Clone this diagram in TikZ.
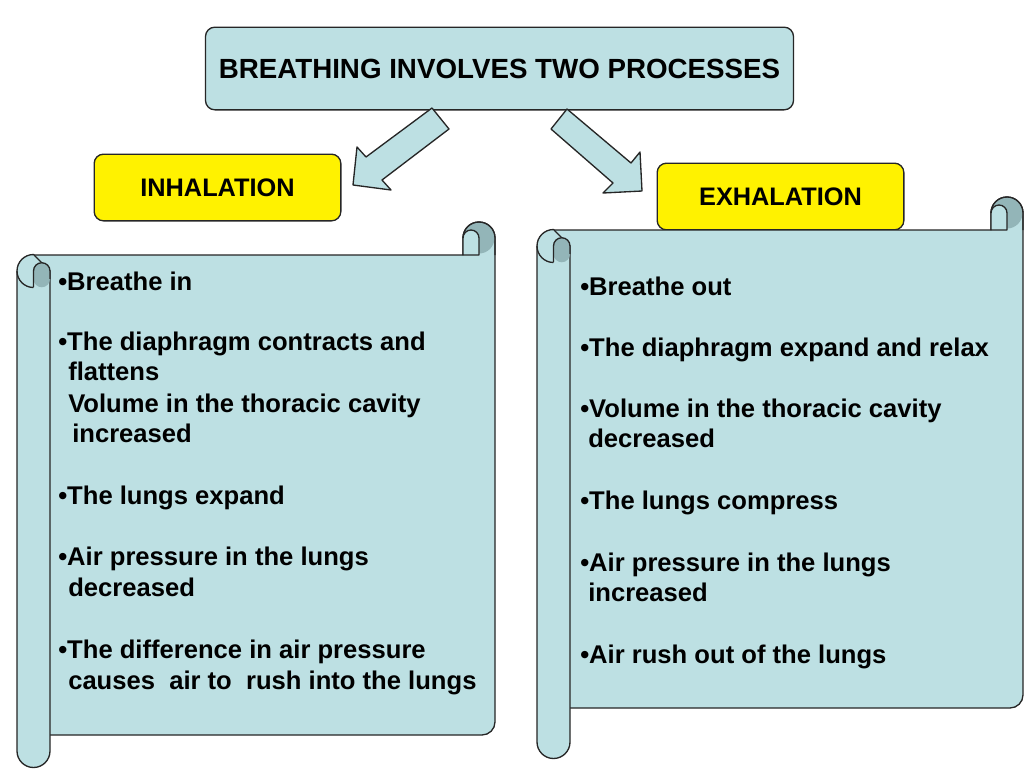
\documentclass[tikz,border=0pt]{standalone}
\usepackage{fontspec}
\setmainfont{Liberation Sans}
\definecolor{lb}{HTML}{BDE0E3}
\definecolor{db}{HTML}{93B5B8}
\begin{document}
\begin{tikzpicture}[x=0.75pt,y=-0.75pt,line join=round,
  ol/.style={draw=black!85,line width=1pt},
  txt/.style={anchor=base west,inner sep=0pt,font=\fontsize{19.2}{22}\selectfont\bfseries}]
\useasboundingbox[fill=white] (0,0) rectangle (1024,768);
% title boxes
\node[ol,fill=lb,rounded corners=7pt,minimum width=441pt,minimum height=62pt,font=\fontsize{20.8}{24}\selectfont\bfseries] (top) at (499.5,68.5) {BREATHING INVOLVES TWO PROCESSES};
\node[ol,fill=yellow,rounded corners=7pt,minimum width=185pt,minimum height=50pt,font=\fontsize{19}{22}\selectfont\bfseries] (inh) at (217.5,187.5) {INHALATION};
\node[ol,fill=yellow,rounded corners=7pt,minimum width=185pt,minimum height=50pt,font=\fontsize{19}{22}\selectfont\bfseries] (exh) at (780.5,196.5) {EXHALATION};
% arrows
\draw[ol,fill=lb] (432,108)--(449,129)--(382,180)--(391,190)--(353,185)--(357,147)--(366,157)--cycle;
\draw[ol,fill=lb] (567,109)--(551,129)--(613,183)--(603,193)--(642,191)--(640,152)--(631,163)--cycle;
% scrolls
\foreach \L/\R/\T/\B/\E/\n in {17/495/255/735/751/a, 537/1023/230/708/742/b}{
  \coordinate (s\n) at (\L,\T);
  \pgfmathsetmacro\Li{\L+16.5}\pgfmathsetmacro\Lr{\L+33}
  \pgfmathsetmacro\Ri{\R-32}\pgfmathsetmacro\Rc{\R-16}
  \pgfmathsetmacro\Tr{\T-17}\pgfmathsetmacro\Tl{\T+16}
  \pgfmathsetmacro\Tc{\T+24}
  \draw[ol,fill=lb] (\Li,\T) -- (\Ri,\T) -- (\Ri,\Tr) arc[start angle=180,end angle=360,radius=16] -- (\R,\B-13) arc[start angle=0,end angle=90,radius=13] -- (\Li,\B) -- cycle;
  \fill[db] (\Rc,\Tr) circle[radius=15.5];
  \draw[ol,fill=lb] (\Ri,\T) -- (\Ri,\Tr) arc[start angle=180,end angle=360,radius=8] -- (\Rc,\T) -- cycle;
  \draw[ol] (\Ri,\Tr) arc[start angle=180,end angle=360,radius=16] -- (\R,\T);
  \draw[ol,fill=lb] (\L,\Tl) arc[start angle=180,end angle=270,radius=16.5] -- (\Lr,\Tl) -- (\Lr,\E) arc[start angle=0,end angle=180,radius=16.5] -- cycle;
  \fill[db] (\Li,\Tc) -- (\Li,\Tl) arc[start angle=180,end angle=360,radius=8.25] -- (\Lr,\Tc) arc[start angle=0,end angle=180,radius=8.25];
  \draw[ol] (\Li,\Tl+16) -- (\Li,\Tl) arc[start angle=180,end angle=360,radius=8.25] -- (\Lr,\Tl+8);
  \draw[ol] (\L,\Tl) arc[start angle=180,end angle=90,radius=16.5];
}
% left text
\foreach \y/\x/\t [count=\i] in {
 290/58/{•Breathe in},
 350/58/{•The diaphragm contracts and},
 380/68/{flattens},
 412/68/{Volume in the thoracic cavity},
 442/72/{increased},
 504/58/{•The lungs expand},
 565/58/{•Air pressure in the lungs},
 596/68/{decreased},
 658/58/{•The difference in air pressure},
 689/68/{causes\ \ air to\ \ rush into the lungs}}
 \node[txt] (l\i) at (\x,\y) {\t};
% right text
\foreach \y/\x/\t [count=\i] in {
 295/580/{•Breathe out},
 356/580/{•The diaphragm expand and relax},
 417/580/{•Volume in the thoracic cavity},
 447/588/{decreased},
 509/580/{•The lungs compress},
 571/580/{•Air pressure in the lungs},
 601/588/{increased},
 663/580/{•Air rush out of the lungs}}
 \node[txt] (r\i) at (\x,\y) {\t};
\end{tikzpicture}
\end{document}
